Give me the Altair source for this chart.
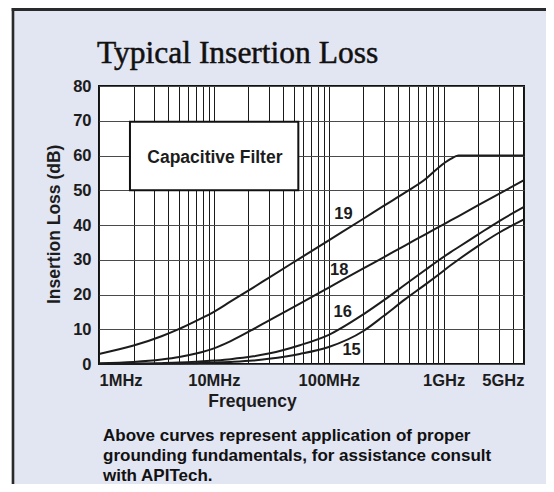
import altair as alt
import pandas as pd

# ---------------- data ----------------
FREQ_MHZ = [1, 2, 3.5, 5, 7, 10, 14, 22, 30, 56, 100, 200, 300, 460, 700, 900, 1150, 1340, 2000, 3000, 5000]
LOSS_19 = [2.9, 5.3, 8.0, 10.1, 12.4, 15.0, 18.0, 22.0, 24.8, 30.4, 35.6, 41.8, 45.5, 49.3, 53.3, 56.5, 59.0, 60.0, 60.0, 60.0, 60.0]
LOSS_18 = [0.2, 0.6, 1.3, 2.0, 3.0, 4.5, 6.6, 10.0, 12.5, 17.4, 22.0, 27.5, 30.7, 34.1, 37.4, 39.4, 41.3, 42.5, 45.7, 48.9, 52.9]
LOSS_16 = [0.0, 0.1, 0.25, 0.4, 0.65, 1.0, 1.4, 2.2, 3.0, 5.4, 8.4, 14.3, 18.3, 22.8, 27.2, 29.8, 32.2, 33.6, 37.3, 41.0, 45.2]
LOSS_15 = [0.0, 0.02, 0.08, 0.15, 0.25, 0.4, 0.6, 1.0, 1.5, 2.9, 4.9, 9.5, 13.8, 18.6, 23.0, 25.7, 28.4, 30.0, 34.0, 37.7, 41.6]
SERIES = ["19", "18", "16", "15"]

LABEL_FREQ = [134, 123, 132, 158]
LABEL_LOSS = [43.3, 27.1, 14.9, 4.1]

X_TICK_VALUES = [1, 10, 100, 1000, 5000]
X_TICK_LABELS = ["1MHz", "10MHz", "100MHz", "1GHz", "5GHz"]
GRID_DECADES = [1, 10, 100, 1000]
GRID_MULTIPLIERS = [1, 2, 3, 4, 5, 6, 7, 8, 9]
Y_TICKS = [0, 10, 20, 30, 40, 50, 60, 70, 80]

BOX_FREQ = [1.86]
BOX_FREQ2 = [54.3]
BOX_LOSS = [50.0]
BOX_LOSS2 = [69.7]
BOX_TEXT = ["Capacitive Filter"]
BOX_TEXT_FREQ = [10.2]
BOX_TEXT_LOSS = [59.4]

TITLE = "Typical Insertion Loss"
X_TITLE = "Frequency"
Y_TITLE = "Insertion Loss (dB)"
FOOTNOTE = [
    "Above curves represent application of proper",
    "grounding fundamentals, for assistance consult",
    "with APITech.",
]

# ---------------- tables ----------------
rows = []
for name, vals in zip(SERIES, [LOSS_19, LOSS_18, LOSS_16, LOSS_15]):
    for f, v in zip(FREQ_MHZ, vals):
        rows.append({"series": name, "freq": f, "loss": v})
curves = pd.DataFrame(rows)
labels = pd.DataFrame({"series": SERIES, "freq": LABEL_FREQ, "loss": LABEL_LOSS})
box = pd.DataFrame({"freq": BOX_FREQ, "freq2": BOX_FREQ2, "loss": BOX_LOSS, "loss2": BOX_LOSS2})
box_text = pd.DataFrame({"t": BOX_TEXT, "freq": BOX_TEXT_FREQ, "loss": BOX_TEXT_LOSS})

grid_values = sorted({m * d for d in GRID_DECADES for m in GRID_MULTIPLIERS if m * d <= 5000} | {5000})
label_expr = " : ".join(
    f"datum.value == {v} ? '{t}'" for v, t in zip(X_TICK_VALUES, X_TICK_LABELS)
) + " : ''"

FONT = "Liberation Sans"
INK = "#1c1c1c"

XS = alt.Scale(type="log", domain=[1, 5000], nice=False)
YS = alt.Scale(domain=[0, 80], nice=False, zero=True)
XAXIS = alt.Axis(
    values=grid_values, labelExpr=label_expr, ticks=False, tickSize=0, domain=False,
    grid=True, gridColor="#1a1a1a", gridWidth=1, labelFont=FONT, labelFontWeight="bold",
    labelFontSize=16.5, labelColor=INK, labelPadding=21, labelBaseline="alphabetic",
    labelFlush=True, labelOverlap=False, title=None,
)
YAXIS = alt.Axis(
    values=Y_TICKS, ticks=False, tickSize=0, domain=False, grid=True, gridColor="#4a4a4a",
    gridWidth=1.2, labelFont=FONT, labelFontWeight="bold", labelFontSize=16.5, labelColor=INK,
    labelPadding=8, labelOverlap=False, title=None,
)
X = alt.X("freq:Q", scale=XS, axis=XAXIS)
Y = alt.Y("loss:Q", scale=YS, axis=YAXIS)

one = pd.DataFrame({"k": [0]})

frame_fill = alt.Chart(one).mark_rect(color="white").encode(
    x=alt.value(-91), x2=alt.value(-87.3), y=alt.value(-78), y2=alt.value(398))
frame_left = alt.Chart(one).mark_rule(color="#2a2a2a", strokeWidth=2.6).encode(
    x=alt.value(-86), y=alt.value(-78), y2=alt.value(398))
frame_top = alt.Chart(one).mark_rule(color="#2a2a2a", strokeWidth=3).encode(
    x=alt.value(-87.3), x2=alt.value(447), y=alt.value(-76.5))

lines = alt.Chart(curves).mark_line(color=INK, strokeWidth=2, interpolate="monotone").encode(
    x=X, y=Y, detail="series:N")

box_rect = alt.Chart(box).mark_rect(fill="white", stroke="#111111", strokeWidth=2).encode(
    x=X, x2="freq2:Q", y=Y, y2="loss2:Q")
box_label = alt.Chart(box_text).mark_text(
    font=FONT, fontWeight="bold", fontSize=17.5, color=INK, align="center", baseline="middle"
).encode(x=X, y=Y, text="t:N")

curve_labels = alt.Chart(labels).mark_text(
    font=FONT, fontWeight="bold", fontSize=16.5, color=INK, align="center", baseline="middle"
).encode(x=X, y=Y, text="series:N")

title = alt.Chart(pd.DataFrame({"t": [TITLE]})).mark_text(
    font="Liberation Serif", fontSize=31.5, color="#111111", stroke="#111111", strokeWidth=0.5,
    align="left", baseline="alphabetic"
).encode(x=alt.value(-2), y=alt.value(-22.7), text="t:N")

y_title = alt.Chart(pd.DataFrame({"t": [Y_TITLE]})).mark_text(
    font=FONT, fontWeight="bold", fontSize=17.5, color=INK, align="center", baseline="middle", angle=270
).encode(x=alt.value(-44), y=alt.value(138.3), text="t:N")

x_title = alt.Chart(pd.DataFrame({"t": [X_TITLE]})).mark_text(
    font=FONT, fontWeight="bold", fontSize=17.5, color=INK, align="center", baseline="alphabetic"
).encode(x=alt.value(153.5), y=alt.value(321.3), text="t:N")

footnote = alt.Chart(pd.DataFrame({"t": ["\n".join(FOOTNOTE)]})).mark_text(
    font=FONT, fontWeight="bold", fontSize=17, color="#111111", align="left",
    baseline="alphabetic", lineBreak="\n", lineHeight=20
).encode(x=alt.value(4), y=alt.value(355.3), text="t:N")

chart = alt.layer(
    lines, box_rect, box_label, curve_labels, title, y_title, x_title, footnote,
    frame_fill, frame_left, frame_top,
).properties(
    width=425, height=278,
    autosize=alt.AutoSizeParams(type="none"),
    padding={"left": 91, "top": 78, "right": 22, "bottom": 120},
    background="#e2e5f2",
).configure_view(fill="white", stroke="#111111", strokeWidth=2)

chart.save("out.html", embed_options={"renderer": "svg", "actions": False})
